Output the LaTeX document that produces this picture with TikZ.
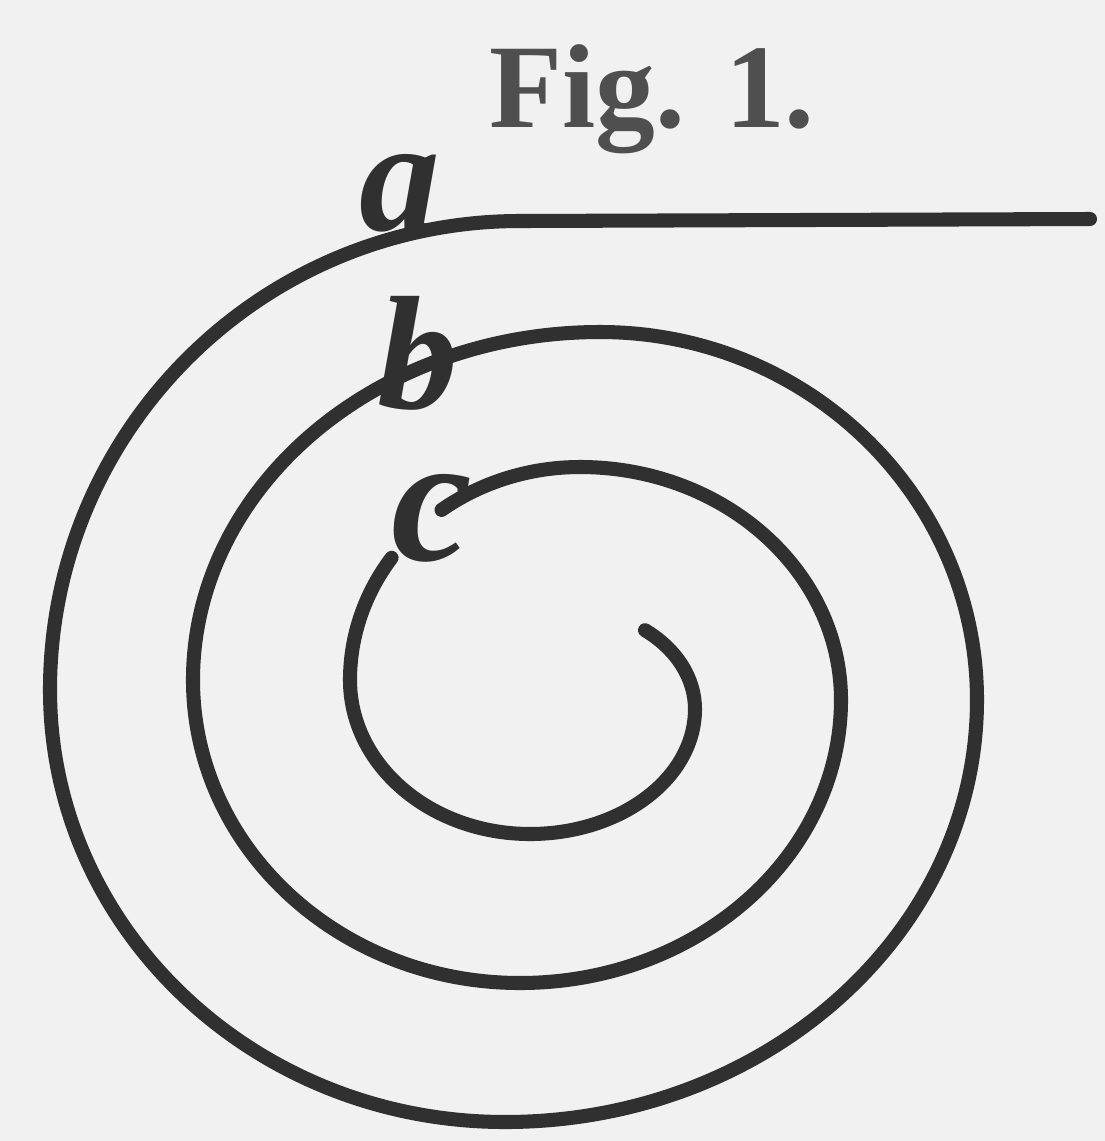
\documentclass[tikz,border=0pt]{standalone}
\usepackage{fontspec}
\setmainfont{Liberation Serif}
\usepackage{tikz}
\usepackage{xcolor}
\definecolor{inkgray}{HTML}{303030}
\definecolor{paper}{HTML}{F1F1F1}

\begin{document}
\begin{tikzpicture}[
      x=0.1mm, y=-0.1mm,
      coil/.style={draw=inkgray, line width=4pt, line cap=round, line join=round},
      letter/.style={text=inkgray, inner sep=0pt, anchor=base, font=\fontsize{46}{46}\selectfont\bfseries\itshape},
      caption/.style={text=inkgray!85, inner sep=0pt, anchor=base, font=\fontsize{34}{34}\selectfont\bfseries},
    ]
    \fill[paper] (0,0) rectangle (1105,1141);

    \node[caption] (title) at (652,127) {Fig. 1.};

    % outer turns, from a through b to c
    \draw[coil] (1090,219) -- (520,221)
      arc[start angle=-90, end angle=-180, x radius=470, y radius=469]
      arc[start angle=-180, end angle=-270, x radius=455, y radius=432]
      arc[start angle=-270, end angle=-360, x radius=472, y radius=422]
      arc[start angle=-360, end angle=-450, x radius=377, y radius=368]
      arc[start angle=-450, end angle=-540, x radius=407, y radius=348]
      arc[start angle=-540, end angle=-630, x radius=327, y radius=303]
      arc[start angle=-630, end angle=-720, x radius=321, y radius=283]
      arc[start angle=-720, end angle=-810, x radius=261, y radius=233]
      arc[start angle=-810, end angle=-847, x radius=230, y radius=213];
    % inner turn, after the gap at c
    \draw[coil] (580,680) ++(-865:230 and 213)
      arc[start angle=-865, end angle=-900, x radius=230, y radius=213]
      arc[start angle=-900, end angle=-990, x radius=180, y radius=154]
      arc[start angle=-990, end angle=-1080, x radius=165, y radius=125]
      arc[start angle=-1080, end angle=-1132, x radius=130, y radius=100];

    \node[letter] (la) at (400,230) {a};
    \node[letter] (lb) at (418,408) {b};
    \node[letter, font=\fontsize{52}{52}\selectfont\bfseries\itshape] (lc) at (432,560) {c};
  \end{tikzpicture}
\end{document}
